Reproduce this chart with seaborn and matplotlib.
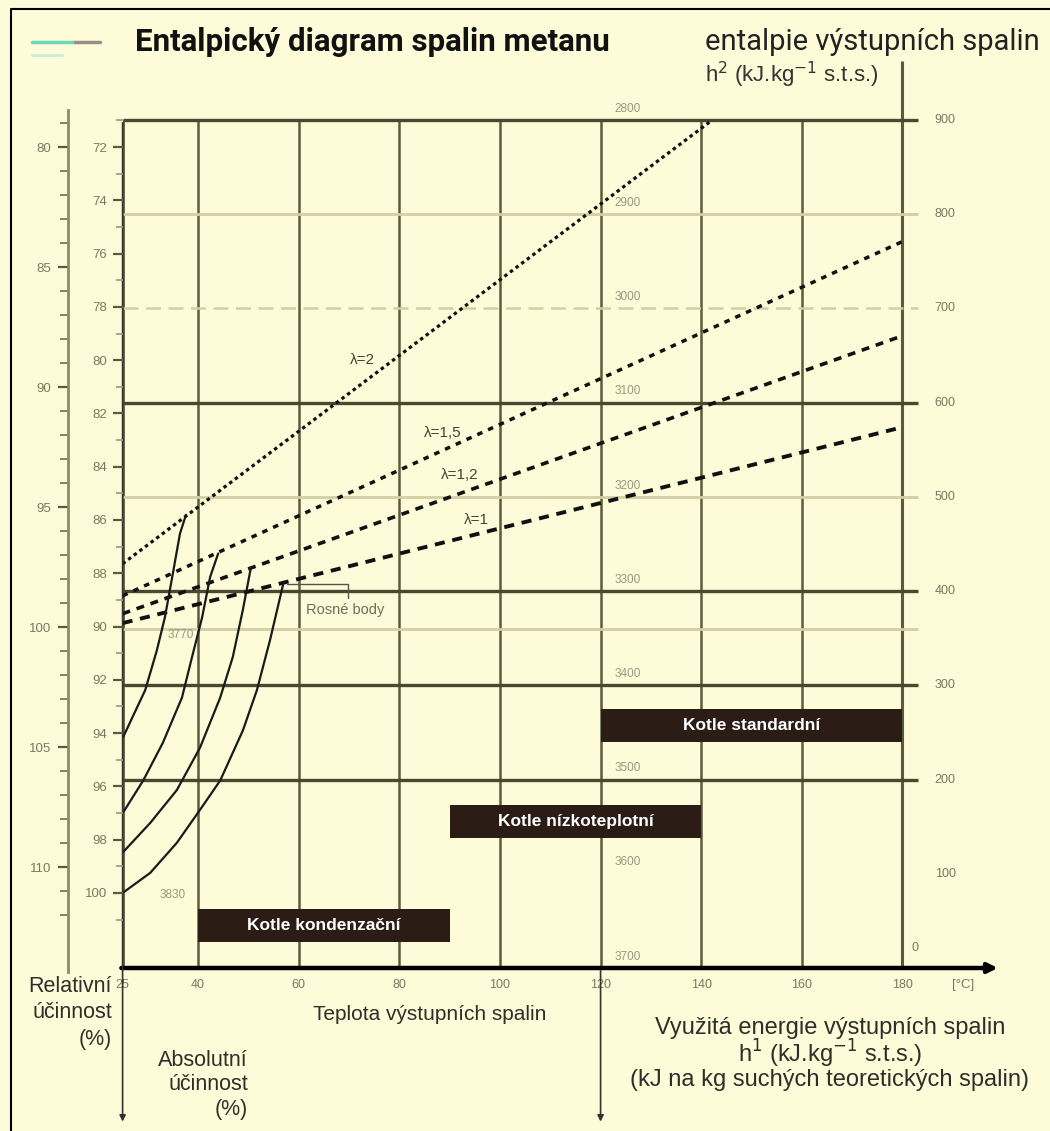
import matplotlib
matplotlib.use("Agg")
import pandas as pd
import matplotlib.pyplot as plt
import seaborn as sns
from matplotlib.lines import Line2D

sns.set_theme(style="white")
plt.rcParams['font.family'] = ['Liberation Sans', 'DejaVu Sans']

BG = "#fdfbd8"
OLIVE = "#5c5a3a"
TMAVA = "#4a4830"
SVETLA = "#d3cea6"
SEDA = "#7a7860"
BOX = "#2b1d16"
TEXT = "#2e2e2a"

# --- data ---
teploty_os = [25, 40, 60, 80, 100, 120, 140, 160, 180]
mrizka_t = [40, 60, 80, 100, 120, 140, 160]
entalpie_os = [900, 800, 700, 600, 500, 400, 300, 200, 100]
cary_tmave = [900, 600, 400, 300, 200]
cary_svetle = [800, 500, 360]
cary_carkovane = [700]
vnitrni_h = [900, 800, 700, 600, 500, 400, 300, 200, 100, 0]
vnitrni_popisky = [2800, 2900, 3000, 3100, 3200, 3300, 3400, 3500, 3600, 3700]

abs_hlavni = [72, 74, 76, 78, 80, 82, 84, 86, 88, 90, 92, 94, 96, 98, 100]
abs_vedlejsi = list(range(71, 102))
rel_hlavni = [80, 85, 90, 95, 100, 105, 110]
rel_vedlejsi = list(range(79, 113))

lambda_nazvy = ["λ=2", "λ=1,5", "λ=1,2", "λ=1"]
lambda_t = [[25, 142.2], [25, 180], [25, 180], [25, 180]]
lambda_h = [[429, 900], [395, 771], [376, 671], [366, 574]]

# krivky pod rosnym bodem
rosne_t = [
    [25.1, 29.5, 31.8, 33.4, 35.0, 36.4, 37.6],
    [25.1, 29.1, 33.0, 36.8, 38.8, 40.8, 42.4, 44.0],
    [25.1, 30.5, 35.8, 40.4, 44.4, 46.9, 48.9, 50.5],
    [25.1, 30.5, 35.8, 40.4, 44.4, 48.9, 51.7, 54.3, 56.9],
]
rosne_h = [
    [245, 295, 337, 372, 419, 461, 481],
    [165, 199, 239, 287, 330, 372, 415, 440],
    [123, 154, 189, 234, 287, 330, 380, 425],
    [80, 101, 133, 168, 199, 252, 295, 348, 407],
]

kotle_nazvy = ["Kotle standardní", "Kotle nízkoteplotní", "Kotle kondenzační"]
kotle_od = [120, 90, 40]
kotle_do = [180, 140, 90]
kotle_h = [257, 155, 45.5]


def fxy(x, y):
    return x / 1050, 1 - y / 1131


fig = plt.figure(figsize=(10.5, 11.31), dpi=100, facecolor=BG)
ax = fig.add_axes([122.6 / 1050, 1 - 968 / 1131, (990 - 122.6) / 1050, 848 / 1131])
ax.patch.set_visible(False)
ax.set_xlim(25, 197.4)
ax.set_ylim(0, 900)
for s in ax.spines.values():
    s.set_visible(False)
ax.set_yticks([])
ax.set_xticks(teploty_os, [str(t) for t in teploty_os])
ax.tick_params(axis='x', length=5, width=1.5, color=OLIVE, labelsize=9,
               labelcolor=SEDA, pad=3)

# mrizka
ax.vlines(mrizka_t, 0, 900, colors=OLIVE, lw=1.8)
ax.vlines(25, 0, 900, colors=OLIVE, lw=2)
ax.vlines(180, 0, 963, colors=OLIVE, lw=2.2, clip_on=False)
ax.hlines(cary_svetle, 25, 183.1, colors=SVETLA, lw=2, clip_on=False)
ax.hlines(cary_carkovane, 25, 183.1, colors=SVETLA, lw=1.8,
          linestyles=[(0, (6, 3))], clip_on=False)
ax.hlines(cary_tmave, 25, 183.1, colors=TMAVA, lw=2.4, clip_on=False)

# osa x se sipkou
ax.annotate("", xy=(199.5, 0), xytext=(24.2, 0), annotation_clip=False,
            arrowprops=dict(arrowstyle="-|>", lw=3.2, color="black", mutation_scale=14))
for t0, h0 in [(25, 900), (120, 0)]:
    ax.annotate("", xy=(t0, -166), xytext=(t0, h0), annotation_clip=False,
                arrowprops=dict(arrowstyle="-|>", lw=1.2, color="#333333", mutation_scale=9))

# popisky entalpie vpravo
for h in entalpie_os:
    ax.text(188.5, h, str(h), ha='center', va='center', fontsize=9, color=SEDA, clip_on=False)
ax.text(182.5, 21, "0", ha='center', va='center', fontsize=9, color=SEDA)
ax.text(192, -18, "[°C]", ha='center', va='center', fontsize=9.5, color=SEDA, clip_on=False)

for lab, hh in zip(vnitrni_popisky, vnitrni_h):
    ax.text(125.3, hh + 12, str(lab), ha='center', va='center', fontsize=8.5, color="#9a9880")
ax.text(36.5, 353, "3770", ha='center', va='center', fontsize=8.5, color="#9a9880")
ax.text(34.9, 77, "3830", ha='center', va='center', fontsize=8.5, color="#9a9880")

# primky lambda
styly = [(2.3, (0, (1.1, 1.1))), (2.5, (0, (1.6, 1.8))),
         (2.6, (0, (2.2, 1.9))), (2.8, (0, (2.6, 2.0)))]
rows = []
for n, ts, hs in zip(lambda_nazvy, lambda_t, lambda_h):
    for t, h in zip(ts, hs):
        rows.append({"lam": n, "T": t, "h": h})
df = pd.DataFrame(rows)
for n, (lw, ls) in zip(lambda_nazvy, styly):
    sns.lineplot(data=df[df["lam"] == n], x="T", y="h", ax=ax, color="#111111",
                 lw=lw, linestyle=ls, errorbar=None, legend=False)

# rosne krivky
for ts, hs in zip(rosne_t, rosne_h):
    sns.lineplot(x=ts, y=hs, ax=ax, color="#1a1a1a", lw=1.6, errorbar=None,
                 sort=False, legend=False)
ax.set_xlabel("")
ax.set_ylabel("")

ax.text(72.6, 645, "λ=2", fontsize=11, color="#444433", ha='center', va='center')
ax.text(88.7, 568, "λ=1,5", fontsize=11, color="#444433", ha='center', va='center')
ax.text(92.1, 523, "λ=1,2", fontsize=11, color="#444433", ha='center', va='center')
ax.text(95.4, 475, "λ=1", fontsize=11, color="#444433", ha='center', va='center')

ax.plot([57.7, 69.8, 69.8], [408, 408, 393], color="#55534a", lw=1)
ax.text(69.3, 380, "Rosné body", fontsize=10.5, color="#6f6d5a", ha='center', va='center')

# kotle
sirky = [b - a for a, b in zip(kotle_od, kotle_do)]
ax.barh(kotle_h, sirky, left=kotle_od, height=35, color=BOX, edgecolor=BOX,
        linewidth=0, zorder=3)
for n, a, b, h in zip(kotle_nazvy, kotle_od, kotle_do, kotle_h):
    ax.text((a + b) / 2, h, n, ha='center', va='center', fontsize=12.5,
            fontweight='bold', color="white", zorder=4)

# leve osy ucinnosti
ax_abs = fig.add_axes([122.6 / 1050, 1 - 919.6 / 1131, 0.0005, (919.6 - 120.4) / 1131])
ax_abs.set_ylim(101, 71)
ax_abs.set_yticks(abs_hlavni, [str(v) for v in abs_hlavni])
ax_abs.set_yticks(abs_vedlejsi, minor=True)
ax_abs.set_xticks([])
for s in ax_abs.spines.values():
    s.set_visible(False)
ax_abs.patch.set_visible(False)
ax_abs.tick_params(axis='y', which='major', left=True, length=7, width=1.6, color=OLIVE,
                   labelsize=9.5, labelcolor=SEDA, pad=4)
ax_abs.tick_params(axis='y', which='minor', left=True, length=5, width=1.2, color="#9c9874")

ax_rel = fig.add_axes([68 / 1050, 1 - 972 / 1131, 0.0005, 862 / 1131])
ax_rel.set_ylim(80 + (972 - 147) / 24, 80 + (110 - 147) / 24)
ax_rel.set_yticks(rel_hlavni, [str(v) for v in rel_hlavni])
ax_rel.set_yticks(rel_vedlejsi, minor=True)
ax_rel.set_xticks([])
for k, s in ax_rel.spines.items():
    s.set_visible(k == 'left')
ax_rel.spines['left'].set_color("#8e8a62")
ax_rel.spines['left'].set_linewidth(2)
ax_rel.patch.set_visible(False)
ax_rel.tick_params(axis='y', which='major', left=True, length=7, width=1.6, color=OLIVE,
                   labelsize=9.5, labelcolor=SEDA, pad=5)
ax_rel.tick_params(axis='y', which='minor', left=True, length=6, width=1.3, color="#7c7955")

# texty
fig.text(*fxy(135, 42), "Entalpický diagram spalin metanu", fontsize=22.5, fontweight='bold',
         family=['Roboto', 'DejaVu Sans'], color="#111111", ha='left', va='center')
fig.text(*fxy(705, 42), "entalpie výstupních spalin", fontsize=21,
         family=['Roboto', 'DejaVu Sans'], color="#222222", ha='left', va='center')
fig.text(*fxy(705, 75), r"h$^2$ (kJ.kg$^{-1}$ s.t.s.)", fontsize=16,
         color="#333333", ha='left', va='center')

for i, s in enumerate(["Relativní", "účinnost", "(%)"]):
    fig.text(*fxy(112, 987 + 26 * i), s, fontsize=15.5, color=TEXT, ha='right', va='center')
for i, s in enumerate(["Absolutní", "účinnost", "(%)"]):
    fig.text(*fxy(248, 1060 + 25 * i), s, fontsize=15.5, color=TEXT, ha='right', va='center')
fig.text(*fxy(430, 1014), "Teplota výstupních spalin", fontsize=15, color=TEXT,
         ha='center', va='center')
for i, s in enumerate(["Využitá energie výstupních spalin",
                       r"h$^1$ (kJ.kg$^{-1}$ s.t.s.)",
                       "(kJ na kg suchých teoretických spalin)"]):
    fig.text(*fxy(830, 1028 + 26 * i), s, fontsize=17, color=TEXT, ha='center', va='center')

# ramecek a cara vlevo nahore
fig.add_artist(Line2D([11 / 1050, 11 / 1050, 1], [0, 1 - 9 / 1131, 1 - 9 / 1131],
                      color="black", lw=1.5))
fig.add_artist(Line2D([32 / 1050, 75 / 1050], [1 - 42 / 1131] * 2, color="#6fd7b8", lw=2.5))
fig.add_artist(Line2D([75 / 1050, 100 / 1050], [1 - 42 / 1131] * 2, color="#9a8e86", lw=2.5))
fig.add_artist(Line2D([32 / 1050, 62 / 1050], [1 - 55 / 1131] * 2, color="#c8eedd", lw=2))

fig.savefig("out.png", dpi=100, facecolor=BG)
